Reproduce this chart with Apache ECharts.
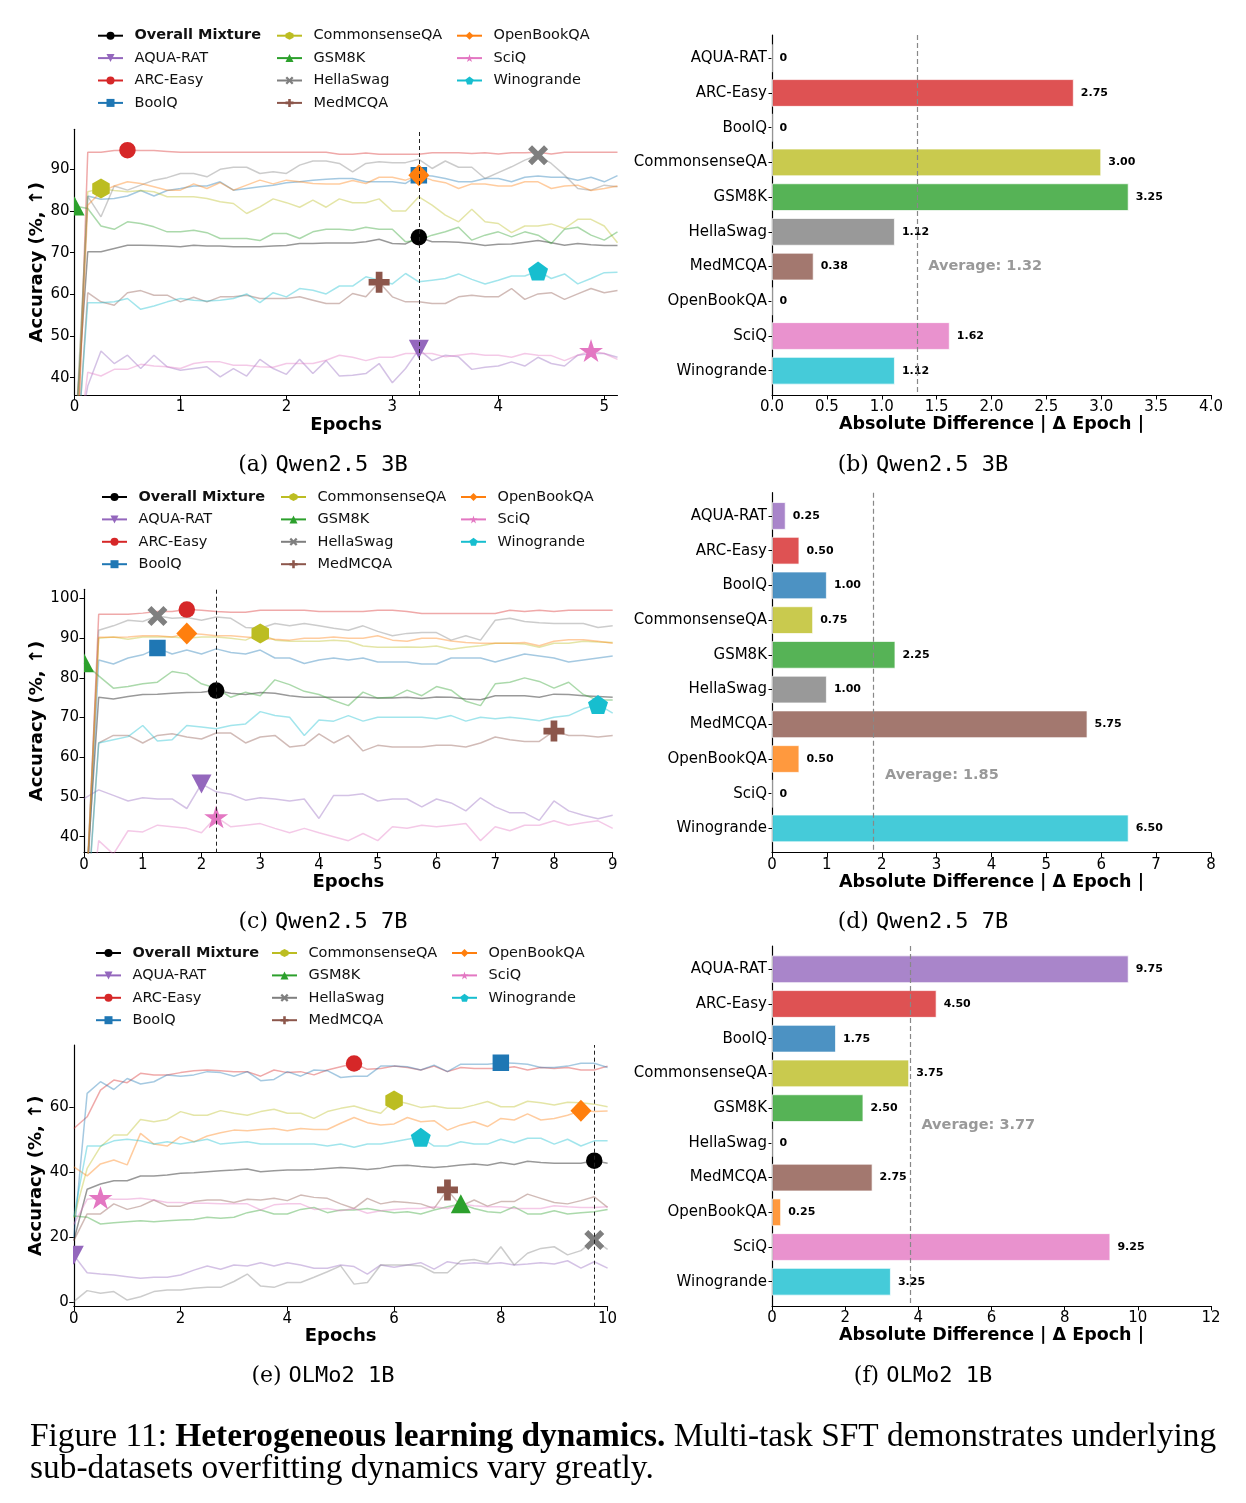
<!DOCTYPE html>
<html>
<head>
<meta charset="utf-8">
<title>Heterogeneous learning dynamics</title>
<script src="https://cdn.jsdelivr.net/npm/echarts@6/dist/echarts.min.js"></script>
<style>
  html, body { margin: 0; padding: 0; background: #fff; }
  #fig { width: 1246px; height: 1503px; }
</style>
</head>
<body>
<div id="fig"></div>
<script>
const FONT = "'DejaVu Sans', sans-serif";

const SERIES_NAMES = ['Overall Mixture', 'AQUA-RAT', 'ARC-Easy', 'BoolQ', 'CommonsenseQA', 'GSM8K',
  'HellaSwag', 'MedMCQA', 'OpenBookQA', 'SciQ', 'Winogrande'];
const SERIES_COLORS = ['#000000', '#9467bd', '#d62728', '#1f77b4', '#bcbd22', '#2ca02c',
  '#7f7f7f', '#8c564b', '#ff7f0e', '#e377c2', '#17becf'];
const BAR_CATEGORIES = SERIES_NAMES.slice(1);
const BAR_COLORS = SERIES_COLORS.slice(1);

// ---- (a) Qwen2.5 3B ----
const epochsQwen3b = [0, 0.125, 0.25, 0.375, 0.5, 0.625, 0.75, 0.875, 1, 1.125, 1.25, 1.375, 1.5, 1.625,
  1.75, 1.875, 2, 2.125, 2.25, 2.375, 2.5, 2.625, 2.75, 2.875, 3, 3.125, 3.25, 3.375, 3.5, 3.625, 3.75,
  3.875, 4, 4.125, 4.25, 4.375, 4.5, 4.625, 4.75, 4.875, 5, 5.125];
const q3Overall = [25, 70.2, 70.2, 71.0, 71.8, 71.8, 71.7, 71.6, 71.4, 71.8, 71.6, 71.6, 71.4, 71.4, 71.4, 71.6, 71.7, 72.2, 72.2, 72.3, 72.3, 72.3, 72.6, 73.2, 72.2, 72.1, 73.7, 72.6, 72.6, 72.5, 72.2, 71.7, 72.0, 72.1, 72.5, 72.9, 72.4, 71.8, 72.2, 71.9, 71.7, 71.7];
const q3Aqua = [20, 38.0, 46.4, 43.4, 45.4, 42.2, 45.4, 42.6, 41.8, 42.2, 42.6, 40.2, 42.2, 40.4, 44.4, 42.2, 40.8, 44.4, 41.0, 44.1, 40.4, 40.6, 41.0, 43.4, 38.8, 42.2, 46.8, 44.1, 45.4, 45.0, 42.0, 42.5, 42.8, 43.8, 42.8, 44.9, 43.4, 42.8, 45.4, 45.8, 45.8, 44.9];
const q3Arc = [0, 94.1, 94.1, 94.5, 94.6, 94.5, 94.5, 94.3, 94.1, 94.1, 94.1, 94.1, 94.1, 94.1, 94.1, 94.1, 94.1, 94.1, 94.1, 94.1, 93.6, 93.6, 93.9, 93.6, 93.6, 93.6, 93.6, 94.0, 94.0, 94.0, 93.8, 94.0, 93.7, 94.0, 94.0, 94.1, 93.7, 94.1, 94.1, 94.1, 94.1, 94.1];
const q3Boolq = [15, 83.6, 82.8, 83.0, 83.6, 84.9, 83.6, 84.9, 85.4, 86.0, 86.0, 87.0, 85.0, 85.4, 85.8, 86.2, 86.8, 87.0, 87.4, 87.6, 87.8, 87.8, 87.0, 87.0, 87.0, 86.6, 88.6, 88.4, 87.8, 87.0, 87.0, 87.8, 87.8, 87.0, 88.1, 88.4, 88.1, 88.1, 87.4, 88.1, 87.0, 88.5];
const q3Csqa = [18, 84.6, 85.4, 84.9, 84.6, 84.9, 84.6, 83.4, 83.4, 83.4, 83.0, 82.2, 81.8, 79.4, 81.0, 82.9, 82.0, 80.9, 82.6, 80.9, 82.9, 82.0, 82.0, 82.9, 80.0, 80.0, 83.4, 81.4, 79.0, 77.4, 80.4, 77.4, 77.0, 74.8, 76.4, 76.4, 76.9, 75.8, 78.0, 78.0, 76.4, 72.4];
const q3Gsm = [81.2, 80.6, 76.4, 75.6, 77.4, 77.0, 76.2, 75.0, 75.0, 75.4, 74.8, 73.4, 73.4, 73.4, 72.9, 74.6, 74.6, 73.4, 75.0, 75.6, 75.6, 75.4, 76.1, 75.6, 75.6, 72.6, 73.0, 74.2, 75.0, 76.1, 73.0, 74.2, 75.0, 73.8, 75.0, 74.2, 72.2, 75.6, 76.1, 74.2, 73.0, 75.0];
const q3Hella = [22, 83.5, 78.6, 86.0, 85.0, 86.2, 87.4, 88.0, 89.0, 89.0, 88.2, 90.0, 90.5, 90.5, 89.0, 89.4, 89.0, 91.0, 92.0, 92.0, 91.4, 89.4, 91.4, 91.8, 91.6, 91.6, 92.4, 90.2, 92.0, 90.5, 90.5, 87.8, 89.2, 90.6, 92.2, 93.4, 91.4, 88.6, 85.4, 85.0, 86.2, 85.8];
const q3Med = [12, 60.4, 58.2, 57.4, 60.4, 60.9, 59.8, 59.8, 58.2, 59.3, 58.2, 59.4, 59.4, 59.8, 59.0, 59.0, 59.0, 59.4, 58.6, 57.8, 57.8, 60.2, 59.4, 62.9, 59.4, 58.2, 58.2, 57.8, 57.8, 59.4, 59.8, 59.4, 59.4, 61.4, 58.8, 60.1, 60.4, 58.8, 60.1, 61.4, 60.4, 60.9];
const q3Obqa = [10, 81.4, 84.6, 86.0, 87.0, 86.6, 85.8, 85.0, 85.0, 86.5, 85.4, 86.8, 85.0, 86.2, 87.4, 86.5, 87.4, 87.0, 86.6, 86.5, 86.5, 87.3, 86.6, 88.1, 88.1, 87.4, 88.6, 87.4, 86.8, 85.4, 86.5, 86.5, 86.0, 86.0, 87.0, 87.0, 85.4, 86.0, 86.2, 84.9, 85.4, 86.0];
const q3Sciq = [16, 41.3, 40.4, 42.0, 42.0, 43.2, 42.8, 42.6, 42.2, 43.4, 43.8, 43.8, 43.0, 43.0, 42.6, 42.5, 43.4, 43.4, 43.4, 44.2, 45.4, 44.9, 44.1, 44.9, 44.9, 45.8, 45.8, 45.8, 45.0, 45.4, 45.8, 45.4, 45.4, 44.9, 45.8, 45.4, 45.3, 44.1, 45.4, 46.5, 45.8, 44.4];
const q3Wino = [14, 58.0, 58.0, 58.2, 59.0, 56.4, 57.2, 58.2, 59.0, 58.6, 58.4, 58.6, 59.0, 60.1, 58.0, 60.4, 59.4, 61.4, 61.0, 60.1, 62.0, 62.0, 64.2, 63.4, 62.5, 65.0, 63.0, 63.4, 63.8, 64.9, 63.6, 62.5, 63.4, 64.4, 64.4, 65.6, 63.8, 64.9, 62.5, 63.8, 65.2, 65.3];
const bestQwen3b = [3.25, 3.25, 0.5, 3.25, 0.25, 0, 4.375, 2.875, 3.25, 4.875, 4.375];

// ---- (c) Qwen2.5 7B ----
const epochsQwen7b = [0, 0.25, 0.5, 0.75, 1, 1.25, 1.5, 1.75, 2, 2.25, 2.5, 2.75, 3, 3.25, 3.5, 3.75, 4,
  4.25, 4.5, 4.75, 5, 5.25, 5.5, 5.75, 6, 6.25, 6.5, 6.75, 7, 7.25, 7.5, 7.75, 8, 8.25, 8.5, 8.75, 9];
const q7Overall = [20, 75.1, 74.7, 75.3, 75.8, 75.9, 76.1, 76.3, 76.4, 76.8, 76.1, 75.8, 76.3, 76.1, 75.5, 75.1, 75.1, 75.1, 75.1, 75.1, 74.9, 74.9, 75.1, 74.8, 75.2, 75.1, 74.7, 74.5, 75.5, 75.5, 75.5, 75.1, 75.9, 75.8, 75.5, 75.3, 75.1];
const q7Aqua = [49.6, 51.8, 50.4, 49.0, 49.8, 49.5, 49.5, 47.1, 53.3, 51.3, 50.7, 49.2, 49.8, 49.5, 49.0, 49.5, 44.6, 50.4, 50.4, 50.8, 49.0, 49.5, 49.5, 47.5, 49.5, 48.5, 46.5, 49.8, 47.5, 46.0, 46.0, 44.1, 49.0, 46.5, 45.4, 44.5, 45.4];
const q7Arc = [10, 96.0, 96.0, 96.0, 96.3, 96.7, 96.7, 97.2, 97.0, 96.7, 96.5, 96.5, 97.0, 97.0, 97.0, 97.0, 96.7, 96.7, 96.7, 96.7, 97.0, 97.0, 96.7, 96.2, 96.2, 96.2, 96.2, 96.2, 96.2, 97.0, 96.7, 97.0, 96.7, 97.0, 97.0, 97.0, 97.0];
const q7Boolq = [12, 84.5, 83.5, 85.0, 85.8, 87.5, 86.0, 87.0, 86.0, 87.3, 86.4, 86.0, 87.0, 85.0, 85.0, 83.6, 84.5, 85.0, 84.5, 85.0, 84.0, 84.0, 84.0, 83.5, 83.5, 85.0, 85.0, 85.0, 84.0, 85.0, 86.0, 85.5, 85.0, 84.0, 84.5, 85.0, 85.5];
const q7Csqa = [14, 90.0, 90.3, 89.7, 90.3, 90.3, 90.3, 90.0, 90.3, 90.3, 90.0, 89.5, 91.2, 89.5, 89.2, 89.2, 89.2, 89.5, 89.2, 88.0, 87.7, 87.7, 87.8, 87.7, 88.0, 87.2, 87.7, 88.1, 88.7, 88.7, 88.5, 87.7, 88.7, 88.7, 89.2, 89.0, 88.9];
const q7Gsm = [83.8, 80.5, 77.4, 77.8, 78.5, 78.9, 81.6, 81.0, 78.5, 77.4, 75.1, 76.4, 75.5, 79.5, 78.3, 76.6, 75.8, 74.3, 73.0, 76.4, 74.9, 75.1, 76.9, 75.5, 77.8, 76.9, 74.1, 73.0, 78.5, 78.9, 80.0, 79.1, 77.4, 78.9, 75.8, 74.4, 74.4];
const q7Hella = [15, 92.0, 93.1, 94.5, 94.2, 95.6, 95.0, 95.2, 94.5, 95.3, 95.0, 92.7, 92.5, 93.7, 93.1, 93.7, 93.1, 92.5, 92.0, 93.1, 91.7, 90.6, 91.2, 91.4, 91.4, 89.5, 90.6, 89.5, 94.5, 95.0, 94.2, 93.9, 93.7, 93.7, 93.7, 92.7, 93.1];
const q7Med = [11, 63.6, 65.5, 65.5, 63.6, 65.5, 65.9, 65.1, 64.6, 66.1, 66.1, 63.6, 65.1, 65.5, 62.6, 63.0, 65.9, 63.6, 65.5, 61.6, 63.0, 62.6, 62.6, 62.6, 63.0, 63.0, 62.6, 63.6, 65.1, 64.4, 64.0, 64.0, 66.6, 65.5, 65.5, 65.1, 65.5];
const q7Obqa = [13, 90.2, 90.2, 90.3, 90.6, 90.6, 90.3, 91.2, 91.0, 90.6, 90.6, 90.3, 90.0, 89.7, 89.5, 90.0, 90.0, 90.3, 90.0, 90.0, 90.6, 89.5, 89.2, 90.0, 90.0, 89.3, 88.9, 88.7, 88.7, 88.7, 88.9, 88.1, 89.2, 89.6, 89.6, 89.2, 88.7];
const q7Sciq = [8, 39.0, 35.6, 41.5, 41.2, 42.9, 42.5, 42.1, 41.0, 45.0, 42.5, 42.9, 43.3, 42.1, 41.0, 42.1, 41.0, 40.0, 39.0, 40.8, 39.0, 42.5, 42.1, 42.9, 42.5, 42.9, 43.3, 39.0, 42.5, 41.5, 42.9, 42.9, 44.0, 42.9, 43.5, 44.0, 42.1];
const q7Wino = [9, 63.6, 64.4, 65.2, 68.0, 64.1, 64.4, 68.0, 67.6, 67.2, 68.0, 68.4, 71.5, 70.5, 70.1, 65.5, 69.4, 69.1, 70.5, 69.1, 70.1, 70.1, 70.1, 70.1, 69.7, 70.5, 69.1, 70.1, 69.7, 70.1, 69.7, 69.2, 70.1, 70.5, 72.2, 73.3, 71.1];
const bestQwen7b = [2.25, 2.0, 1.75, 1.25, 3.0, 0, 1.25, 8.0, 1.75, 2.25, 8.75];

// ---- (e) OLMo2 1B ----
const epochsOlmo = [0, 0.25, 0.5, 0.75, 1, 1.25, 1.5, 1.75, 2, 2.25, 2.5, 2.75, 3, 3.25, 3.5, 3.75, 4,
  4.25, 4.5, 4.75, 5, 5.25, 5.5, 5.75, 6, 6.25, 6.5, 6.75, 7, 7.25, 7.5, 7.75, 8, 8.25, 8.5, 8.75, 9,
  9.25, 9.5, 9.75, 10];
const olOverall = [19, 34.8, 36.4, 37.4, 37.4, 38.9, 38.9, 39.2, 39.7, 39.9, 40.2, 40.5, 40.7, 41.0, 40.2, 40.5, 40.7, 40.7, 40.9, 41.2, 41.5, 41.3, 40.9, 41.3, 42.0, 42.2, 41.8, 41.5, 41.8, 42.3, 42.6, 42.2, 43.0, 42.4, 43.4, 43.0, 42.8, 42.8, 42.8, 43.6, 42.8];
const olAqua = [14.5, 9.1, 8.7, 8.4, 7.9, 7.4, 7.7, 7.7, 8.4, 9.9, 11.2, 10.2, 11.5, 11.2, 12.2, 11.2, 12.2, 11.5, 10.5, 10.5, 11.5, 11.0, 8.7, 11.5, 10.8, 11.5, 12.2, 10.2, 12.5, 11.8, 12.2, 11.8, 12.2, 11.5, 11.8, 12.2, 11.8, 12.8, 10.5, 12.5, 10.5];
const olArc = [53.5, 57.1, 65.3, 68.4, 67.6, 70.5, 70.0, 70.0, 70.7, 71.3, 71.5, 71.3, 71.0, 71.0, 69.6, 71.5, 70.7, 71.0, 70.0, 71.5, 72.5, 73.5, 71.7, 72.0, 72.7, 72.3, 71.5, 72.7, 71.0, 72.3, 72.0, 72.0, 72.0, 72.5, 71.5, 72.3, 72.0, 72.3, 71.5, 71.5, 72.7];
const olBoolq = [20, 64.3, 67.9, 65.5, 68.9, 67.2, 67.9, 70.0, 69.6, 70.0, 71.0, 70.7, 69.6, 71.0, 68.2, 68.6, 71.0, 69.6, 71.5, 71.3, 69.2, 69.6, 69.6, 72.7, 72.7, 72.5, 71.5, 73.0, 71.0, 73.3, 73.3, 73.3, 73.7, 73.6, 73.3, 72.3, 72.3, 72.7, 73.6, 73.6, 72.3];
const olCsqa = [26, 41.2, 47.9, 51.5, 51.5, 56.3, 55.6, 56.3, 58.7, 57.6, 57.6, 59.0, 58.2, 57.6, 58.7, 59.4, 58.2, 58.2, 56.6, 58.7, 59.7, 60.4, 59.2, 58.2, 62.1, 61.2, 60.0, 60.4, 59.7, 59.7, 60.7, 61.8, 60.2, 60.2, 61.9, 61.4, 60.7, 61.6, 61.4, 61.0, 60.2];
const olGsm = [26.6, 26.2, 24.1, 24.5, 24.8, 25.1, 24.8, 25.1, 25.3, 25.5, 26.2, 25.9, 26.2, 27.6, 28.4, 27.2, 27.2, 28.6, 29.2, 27.6, 28.4, 28.4, 28.9, 28.2, 27.6, 27.9, 27.2, 28.4, 29.4, 30.3, 28.9, 27.9, 27.6, 29.4, 27.2, 27.2, 28.2, 27.2, 27.6, 27.9, 28.6];
const olHella = [0.2, 3.6, 2.8, 3.3, 0.7, 1.7, 3.3, 3.8, 3.8, 4.3, 4.6, 4.6, 6.4, 8.7, 5.0, 4.6, 6.1, 6.1, 7.7, 9.4, 11.2, 5.6, 6.1, 11.5, 11.5, 11.5, 11.2, 9.1, 9.1, 12.8, 13.2, 12.2, 17.1, 11.5, 15.1, 16.6, 17.1, 14.6, 15.9, 19.2, 16.3];
const olMed = [19, 27.2, 27.2, 30.3, 28.6, 29.6, 31.5, 29.6, 29.6, 31.0, 31.5, 31.5, 30.7, 31.7, 31.5, 32.0, 31.3, 33.0, 32.3, 32.0, 30.3, 28.9, 32.0, 30.3, 31.0, 30.7, 30.3, 28.9, 34.6, 29.6, 31.5, 29.6, 31.0, 31.0, 33.3, 32.0, 30.7, 30.3, 31.3, 32.5, 29.2];
const olObqa = [41.7, 38.9, 42.6, 43.8, 42.3, 52.0, 48.7, 48.1, 51.0, 49.4, 51.2, 52.2, 53.0, 52.8, 53.2, 53.5, 52.8, 53.5, 53.2, 53.2, 55.1, 56.9, 55.3, 54.6, 54.9, 56.9, 55.6, 55.9, 53.0, 54.6, 55.6, 54.1, 56.6, 56.1, 58.0, 56.1, 56.6, 57.6, 59.0, 58.7, 58.9];
const olSciq = [24, 31.7, 32.2, 31.7, 31.7, 32.0, 31.5, 30.7, 30.7, 30.5, 30.5, 30.3, 30.3, 30.3, 28.4, 30.0, 30.3, 30.3, 28.6, 28.9, 28.2, 28.9, 27.4, 28.2, 28.6, 28.9, 28.9, 29.4, 28.9, 30.3, 29.7, 29.4, 29.4, 28.9, 28.9, 28.9, 29.7, 29.4, 29.2, 29.2, 29.4];
const olWino = [26.4, 48.1, 48.1, 49.7, 50.2, 49.7, 48.7, 49.4, 48.7, 49.4, 50.2, 48.7, 49.1, 49.4, 48.7, 48.7, 48.7, 48.7, 48.7, 48.1, 48.7, 47.7, 48.7, 48.7, 49.4, 50.2, 50.8, 48.1, 48.1, 49.4, 48.7, 48.7, 50.2, 49.1, 50.5, 50.5, 48.7, 50.2, 48.1, 49.7, 49.7];
const bestOlmo = [9.75, 0, 5.25, 8.0, 6.0, 7.25, 9.75, 7.0, 9.5, 0.5, 6.5];

// ---- bar panels: |best epoch - overall best epoch| ----
const diffQwen3b = [0, 2.75, 0, 3.00, 3.25, 1.12, 0.38, 0, 1.62, 1.12];
const diffQwen7b = [0.25, 0.50, 1.00, 0.75, 2.25, 1.00, 5.75, 0.50, 0, 6.50];
const diffOlmo = [9.75, 4.50, 1.75, 3.75, 2.50, 0, 2.75, 0.25, 9.25, 3.25];
const averages = [1.32, 1.85, 3.77];

// marker shapes (matplotlib o v o s h ^ X P D * p)
const PATH_CIRCLE = 'M0,1A1,1,0,1,1,2,1A1,1,0,1,1,0,1Z';
const PATH_RECT = 'M0,0L2,0L2,2L0,2Z';
const PATH_UP = 'M1,0L2,2L0,2Z';
const PATH_DIAMOND = 'M1,0L2,1L1,2L0,1Z';
const PATH_DOWN = 'M0,0L2,0L1,2Z';
const PATH_HEX = 'M0.866,0L1.732,0.5L1.732,1.5L0.866,2L0,1.5L0,0.5Z';
const PATH_X = 'M0,2L2,0L5,3L8,0L10,2L7,5L10,8L8,10L5,7L2,10L0,8L3,5Z';
const PATH_PLUS = 'M3.4,0L6.6,0L6.6,3.4L10,3.4L10,6.6L6.6,6.6L6.6,10L3.4,10L3.4,6.6L0,6.6L0,3.4L3.4,3.4Z';
const PATH_STAR = 'M0.951,0L1.176,0.691L1.902,0.691L1.314,1.118L1.539,1.809L0.951,1.382L0.363,1.809L0.588,1.118L0,0.691L0.727,0.691Z';
const PATH_PENT = 'M0.951,0L1.902,0.691L1.539,1.809L0.363,1.809L0,0.691Z';
const MARK_PATHS = [PATH_CIRCLE, PATH_DOWN, PATH_CIRCLE, PATH_RECT, PATH_HEX, PATH_UP, PATH_X, PATH_PLUS,
  PATH_DIAMOND, PATH_STAR, PATH_PENT];
const SYMBOLS = ['circle', 'path://' + PATH_DOWN, 'circle', 'rect', 'path://' + PATH_HEX, 'triangle',
  'path://' + PATH_X, 'path://' + PATH_PLUS, 'diamond', 'path://' + PATH_STAR, 'path://' + PATH_PENT];
const MARK_SIZES = [16.5, [20, 19], 16.5, 16.5, [17.5, 20], [20, 19], 20, 21, [21, 22], [24, 23], [20, 19]];

const LEGEND_COLUMNS = [[0, 1, 2, 3], [4, 5, 6, 7], [8, 9, 10]];

const LINE_PANELS = [
  { epochs: epochsQwen3b, best: bestQwen3b,
    series: [q3Overall, q3Aqua, q3Arc, q3Boolq, q3Csqa, q3Gsm, q3Hella, q3Med, q3Obqa, q3Sciq, q3Wino],
    grid: { left: 74.5, top: 129.3, width: 543, height: 265.7 },
    xMax: 5.125, xTicks: [0, 1, 2, 3, 4, 5], yMin: 35.85, yMax: 99.6, yTicks: [40, 50, 60, 70, 80, 90],
    yNameGap: 27.5, legendLeft: [97, 276, 456], legendTop: 24.5 },
  { epochs: epochsQwen7b, best: bestQwen7b,
    series: [q7Overall, q7Aqua, q7Arc, q7Boolq, q7Csqa, q7Gsm, q7Hella, q7Med, q7Obqa, q7Sciq, q7Wino],
    grid: { left: 84, top: 589.3, width: 528.7, height: 263.4 },
    xMax: 9, xTicks: [0, 1, 2, 3, 4, 5, 6, 7, 8, 9], yMin: 35.97, yMax: 102.3, yTicks: [40, 50, 60, 70, 80, 90, 100],
    yNameGap: 37, legendLeft: [101, 280, 460], legendTop: 485.8 },
  { epochs: epochsOlmo, best: bestOlmo,
    series: [olOverall, olAqua, olArc, olBoolq, olCsqa, olGsm, olHella, olMed, olObqa, olSciq, olWino],
    grid: { left: 73.8, top: 1045, width: 533.8, height: 261.7 },
    xMax: 10, xTicks: [0, 2, 4, 6, 8, 10], yMin: -1.35, yMax: 79.2, yTicks: [0, 20, 40, 60],
    yNameGap: 27, legendLeft: [95, 271, 451], legendTop: 941.8 }
];

const BAR_PANELS = [
  { values: diffQwen3b, avg: averages[0], top: 35, xMax: 4, xStep: 0.5, avgRow: 6.0, digits: 1 },
  { values: diffQwen7b, avg: averages[1], top: 492.7, xMax: 8, xStep: 1, avgRow: 7.47, digits: 0 },
  { values: diffOlmo, avg: averages[2], top: 946, xMax: 12, xStep: 2, avgRow: 4.5, digits: 0 }
];

function withAlpha(hex, a) {
  const n = parseInt(hex.slice(1), 16);
  return 'rgba(' + (n >> 16) + ',' + ((n >> 8) & 255) + ',' + (n & 255) + ',' + a + ')';
}

// best-epoch marker, clipped to the plot area like matplotlib does
function renderMarker(params, api) {
  const j = api.value(2);
  const pt = api.coord([api.value(0), api.value(1)]);
  const sz = MARK_SIZES[j];
  const w = Array.isArray(sz) ? sz[0] : sz;
  const h = Array.isArray(sz) ? sz[1] : sz;
  return {
    type: 'path',
    shape: { pathData: MARK_PATHS[j], x: pt[0] - w / 2, y: pt[1] - h / 2, width: w, height: h, layout: 'cover' },
    style: { fill: SERIES_COLORS[j] }
  };
}

const axisLineStyle = { color: '#000', width: 1.2 };
const tickStyle = { color: '#000', width: 1 };

const option = {
  animation: false,
  backgroundColor: '#fff',
  textStyle: { fontFamily: FONT },
  grid: [], xAxis: [], yAxis: [], series: [], legend: [], graphic: []
};

LINE_PANELS.forEach(function (p) {
  const g = option.grid.length;
  option.grid.push(Object.assign({ outerBoundsMode: 'none', containLabel: false }, p.grid));
  option.xAxis.push({
    gridIndex: g, type: 'value', min: 0, max: p.xMax,
    axisLine: { show: true, onZero: false, lineStyle: axisLineStyle },
    axisTick: { show: true, customValues: p.xTicks, length: 4.5, lineStyle: tickStyle },
    axisLabel: { customValues: p.xTicks, color: '#000', fontSize: 15, margin: 5 },
    splitLine: { show: false },
    name: 'Epochs', nameLocation: 'middle', nameGap: 20,
    nameTextStyle: { color: '#000', fontSize: 18, fontWeight: 'bold' }
  });
  option.yAxis.push({
    gridIndex: g, type: 'value', min: p.yMin, max: p.yMax,
    axisLine: { show: true, onZero: false, lineStyle: axisLineStyle },
    axisTick: { show: true, customValues: p.yTicks, length: 4.5, lineStyle: tickStyle },
    axisLabel: { customValues: p.yTicks, color: '#000', fontSize: 15, margin: 5 },
    splitLine: { show: false },
    name: 'Accuracy (%, \u2191)', nameLocation: 'middle', nameGap: p.yNameGap,
    nameTextStyle: { color: '#000', fontSize: 18, fontWeight: 'bold' }
  });
  const markers = [];
  p.series.forEach(function (vals, j) {
    const bi = p.epochs.indexOf(p.best[j]);
    markers.push([p.best[j], vals[bi], j]);
    const s = {
      type: 'line', name: SERIES_NAMES[j], xAxisIndex: g, yAxisIndex: g,
      data: p.epochs.map(function (e, i) { return [e, vals[i]]; }),
      symbol: SYMBOLS[j], showSymbol: false, symbolSize: 8,
      color: SERIES_COLORS[j],
      lineStyle: { width: 1.5, opacity: 0.4 },
      emphasis: { disabled: true }, silent: true, clip: true, z: 2
    };
    if (j === 0) {
      s.markLine = {
        symbol: 'none', silent: true, animation: false, label: { show: false },
        lineStyle: { color: '#222', type: [4, 3], width: 1, opacity: 1 },
        data: [{ xAxis: p.best[0] }]
      };
    }
    option.series.push(s);
  });
  option.series.push({
    type: 'custom', name: 'best-epoch markers', xAxisIndex: g, yAxisIndex: g,
    clip: true, silent: true, z: 4,
    encode: { x: 0, y: 1 },
    data: markers,
    renderItem: renderMarker
  });
  LEGEND_COLUMNS.forEach(function (col, c) {
    option.legend.push({
      orient: 'vertical', left: p.legendLeft[c], top: p.legendTop, padding: 0,
      itemWidth: 25, itemHeight: 10, itemGap: 0, selectedMode: false,
      lineStyle: { opacity: 1 }, itemStyle: { opacity: 1 },
      textStyle: { fontSize: 14.5, lineHeight: 22.4, color: '#111', padding: [0, 0, 0, 6.5], fontFamily: FONT },
      data: col.map(function (k) {
        return k === 0 ? { name: SERIES_NAMES[k], textStyle: { fontWeight: 'bold' } } : SERIES_NAMES[k];
      })
    });
  });
});

BAR_PANELS.forEach(function (p) {
  const gFrame = option.grid.length;
  const gBars = gFrame + 1;
  option.grid.push({ left: 772, width: 439, top: p.top, height: 360, outerBoundsMode: 'none', containLabel: false });
  option.grid.push({ left: 772, width: 439, top: p.top + 5.9, height: 347.2, outerBoundsMode: 'none', containLabel: false });
  option.xAxis.push({
    gridIndex: gFrame, type: 'value', min: 0, max: p.xMax, interval: p.xStep,
    axisLine: { show: true, onZero: false, lineStyle: axisLineStyle },
    axisTick: { show: true, length: 4.5, lineStyle: tickStyle },
    axisLabel: { color: '#000', fontSize: 15, margin: 5,
      formatter: function (v) { return v.toFixed(p.digits); } },
    splitLine: { show: false },
    name: 'Absolute Difference | \u0394 Epoch |', nameLocation: 'middle', nameGap: 20,
    nameTextStyle: { color: '#000', fontSize: 17.5, fontWeight: 'bold' }
  });
  option.yAxis.push({
    gridIndex: gFrame, type: 'value', min: -0.67, max: 9.7, inverse: true,
    axisLine: { show: true, onZero: false, lineStyle: axisLineStyle },
    axisTick: { show: false }, axisLabel: { show: false }, splitLine: { show: false }
  });
  option.xAxis.push({ gridIndex: gBars, type: 'value', min: 0, max: p.xMax, show: false });
  option.yAxis.push({
    gridIndex: gBars, type: 'category', data: BAR_CATEGORIES, inverse: true,
    axisLine: { show: false },
    axisTick: { show: true, alignWithLabel: true, length: 3.5, lineStyle: tickStyle },
    axisLabel: { interval: 0, color: '#000', fontSize: 15, margin: 5 },
    splitLine: { show: false }
  });
  option.series.push({
    type: 'bar', xAxisIndex: gBars, yAxisIndex: gBars, barWidth: '80%', silent: true,
    data: p.values.map(function (v, i) {
      return { value: v, itemStyle: { color: withAlpha(BAR_COLORS[i], 0.8),
        borderColor: 'rgba(255,255,255,0.7)', borderWidth: 1 } };
    }),
    label: {
      show: true, position: 'right', distance: 7, color: '#000', fontSize: 11, fontWeight: 'bold',
      formatter: function (d) { return d.value === 0 ? '0' : d.value.toFixed(2); }
    }
  });
  option.series.push({
    type: 'scatter', xAxisIndex: gFrame, yAxisIndex: gFrame, silent: true,
    symbolSize: 1, itemStyle: { color: 'rgba(0,0,0,0)' },
    data: [[p.avg + p.xMax * 0.025, p.avgRow]],
    label: {
      show: true, position: 'right', distance: 0, color: '#808080', fontSize: 14.5, fontWeight: 'bold',
      formatter: 'Average: ' + p.avg.toFixed(2)
    },
    markLine: {
      symbol: 'none', silent: true, animation: false, label: { show: false },
      lineStyle: { color: '#888', type: [5, 3], width: 1.2, opacity: 1 },
      data: [{ xAxis: p.avg }]
    }
  });
});

const SUBCAPTIONS = [
  ['(a) ', 'Qwen2.5 3B', 323, 465], ['(b) ', 'Qwen2.5 3B', 923, 465],
  ['(c) ', 'Qwen2.5 7B', 323, 922], ['(d) ', 'Qwen2.5 7B', 923, 922],
  ['(e) ', 'OLMo2 1B', 323, 1376], ['(f) ', 'OLMo2 1B', 923, 1376]
];
SUBCAPTIONS.forEach(function (c) {
  option.graphic.push({
    type: 'text', x: c[2], y: c[3], silent: true,
    style: {
      text: '{s|' + c[0] + '}{m|' + c[1] + '}', align: 'center', verticalAlign: 'middle',
      rich: {
        s: { fontFamily: "'DejaVu Serif', serif", fontSize: 22, fill: '#000', color: '#000' },
        m: { fontFamily: "'DejaVu Sans Mono', monospace", fontSize: 22, fill: '#000', color: '#000' }
      }
    }
  });
});

const capRich = {
  n: { fontFamily: "'Liberation Serif', serif", fontSize: 33.4, color: '#000', fill: '#000' },
  b: { fontFamily: "'Liberation Serif', serif", fontSize: 33.4, fontWeight: 'bold', color: '#000', fill: '#000' }
};
option.graphic.push({
  type: 'text', x: 30, y: 1437, silent: true,
  style: { text: '{n|Figure 11: }{b|Heterogeneous learning dynamics.}{n| Multi-task SFT demonstrates underlying}',
    align: 'left', verticalAlign: 'middle', rich: capRich }
});
option.graphic.push({
  type: 'text', x: 30, y: 1469, silent: true,
  style: { text: '{n|sub-datasets overfitting dynamics vary greatly.}', align: 'left', verticalAlign: 'middle', rich: capRich }
});

const chart = echarts.init(document.getElementById('fig'), null, { renderer: 'canvas' });
chart.setOption(option);
</script>
</body>
</html>
